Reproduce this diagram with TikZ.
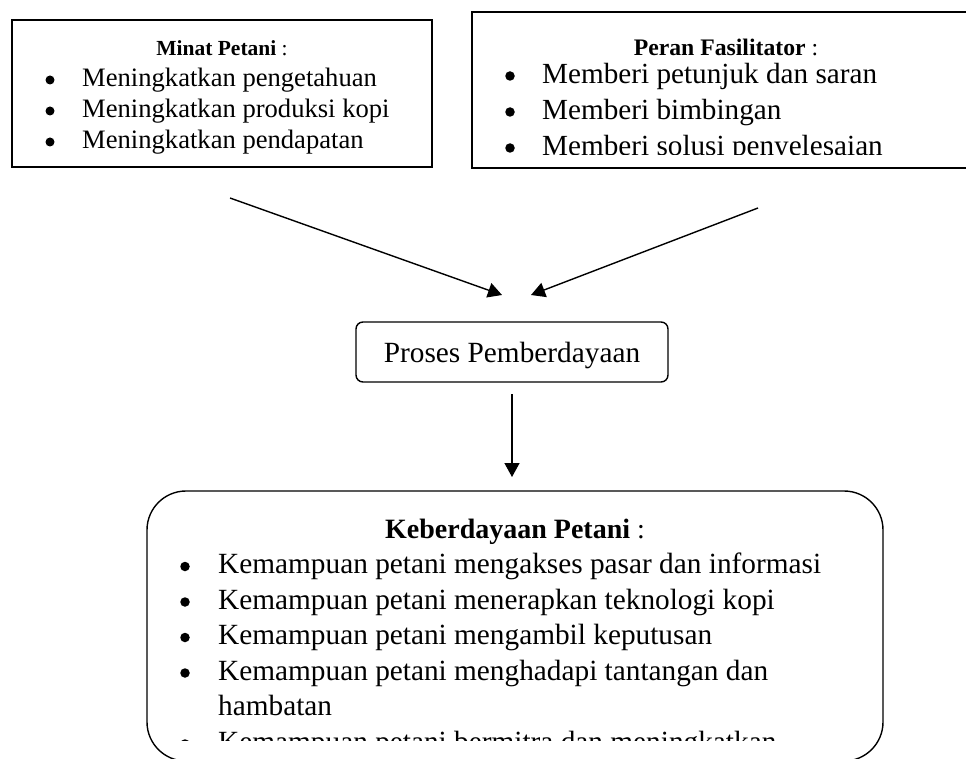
\documentclass[tikz,border=0pt]{standalone}
\usepackage{fontspec}
\setmainfont{Liberation Serif}
\usetikzlibrary{arrows.meta}
\newcommand\szTA{\fontsize{21.5}{26}\selectfont}
\newcommand\szIA{\fontsize{26.6}{31}\selectfont}
\newcommand\szTB{\fontsize{23.7}{28}\selectfont}
\newcommand\szIB{\fontsize{29.2}{36}\selectfont}
\newcommand\szTC{\fontsize{28}{36}\selectfont}
\newcommand\szIC{\fontsize{29.3}{36}\selectfont}
\begin{document}
\begin{tikzpicture}[x=1pt,y=-1pt,
  box/.style={draw, line width=1.4pt, inner sep=0pt},
  txt/.style={inner sep=0pt, anchor=base west},
  ttl/.style={inner sep=0pt, anchor=base},
  dot/.style={circle, fill, inner sep=0pt, minimum size=#1},
  dot/.default=9.5pt,
  arr/.style={line width=1.4pt, -{Triangle[length=14pt,width=15pt]}}
]
\clip (0,0) rectangle (966,759);
\fill[white] (0,0) rectangle (966,759);

% boxes
\node[box, minimum width=420pt, minimum height=147pt] (minat) at (222,93.5) {};
\node[box, minimum width=508pt, minimum height=156pt] (peran) at (726,90) {};
\node[box, rounded corners=7pt, minimum width=312pt, minimum height=60pt] (proses) at (512,352) {};
\node[box, rounded corners=39pt, minimum width=736pt, minimum height=270pt] (kebe) at (515,626) {};

% left box text
\node[ttl, font=\szTA] (mt) at (222,56) {\textbf{Minat Petani} :};
\node[dot=9pt] (mb1) at (50,80) {};
\node[txt, font=\szIA] (m1) at (82,87) {Meningkatkan pengetahuan};
\node[dot=9pt] (mb2) at (50,111) {};
\node[txt, font=\szIA] (m2) at (82,118) {Meningkatkan produksi kopi};
\node[dot=9pt] (mb3) at (50,142) {};
\node[txt, font=\szIA] (m3) at (82,149) {Meningkatkan pendapatan};

% right box text
\node[ttl, font=\szTB] (pt) at (726,56) {\textbf{Peran Fasilitator} :};
\node[dot] (pb1) at (510,76) {};
\node[txt, font=\szIB] (p1) at (542,84) {Memberi petunjuk dan saran};
\node[dot] (pb2) at (510,112) {};
\node[txt, font=\szIB] (p2) at (542,120) {Memberi bimbingan};
\begin{scope}
\clip (480,120) rectangle (966,155);
\node[dot] (pb3) at (510,148) {};
\node[txt, font=\szIB] (p3) at (542,156) {Memberi solusi penyelesaian};
\end{scope}

% process
\node[ttl, font=\szIC] (pp) at (512,362) {Proses Pemberdayaan};

% bottom box text
\node[ttl, font=\szTC] (kt) at (515,538) {\textbf{Keberdayaan Petani} :};
\node[dot] (kb1) at (185,566.5) {};
\node[txt, font=\szIC] (k1) at (218,573.5) {Kemampuan petani mengakses pasar dan informasi};
\node[dot] (kb2) at (185,602) {};
\node[txt, font=\szIC] (k2) at (218,609) {Kemampuan petani menerapkan teknologi kopi};
\node[dot] (kb3) at (185,637.5) {};
\node[txt, font=\szIC] (k3) at (218,644.5) {Kemampuan petani mengambil keputusan};
\node[dot] (kb4) at (185,673) {};
\node[txt, font=\szIC] (k4) at (218,680) {Kemampuan petani menghadapi tantangan dan};
\node[txt, font=\szIC] (k4b) at (218,715.5) {hambatan};
\begin{scope}
\clip (150,720) rectangle (880,740);
\node[dot] (kb5) at (185,744) {};
\node[txt, font=\szIC] (k5) at (218,751) {Kemampuan petani bermitra dan meningkatkan};
\end{scope}

% arrows
\coordinate (a1s) at (230,198);
\coordinate (a1e) at (502,295);
\coordinate (a2s) at (758,208);
\coordinate (a2e) at (531,295);
\coordinate (a3s) at (512,394);
\coordinate (a3e) at (512,477);
\draw[arr] (a1s) -- (a1e);
\draw[arr] (a2s) -- (a2e);
\draw[arr] (a3s) -- (a3e);
\end{tikzpicture}
\end{document}
